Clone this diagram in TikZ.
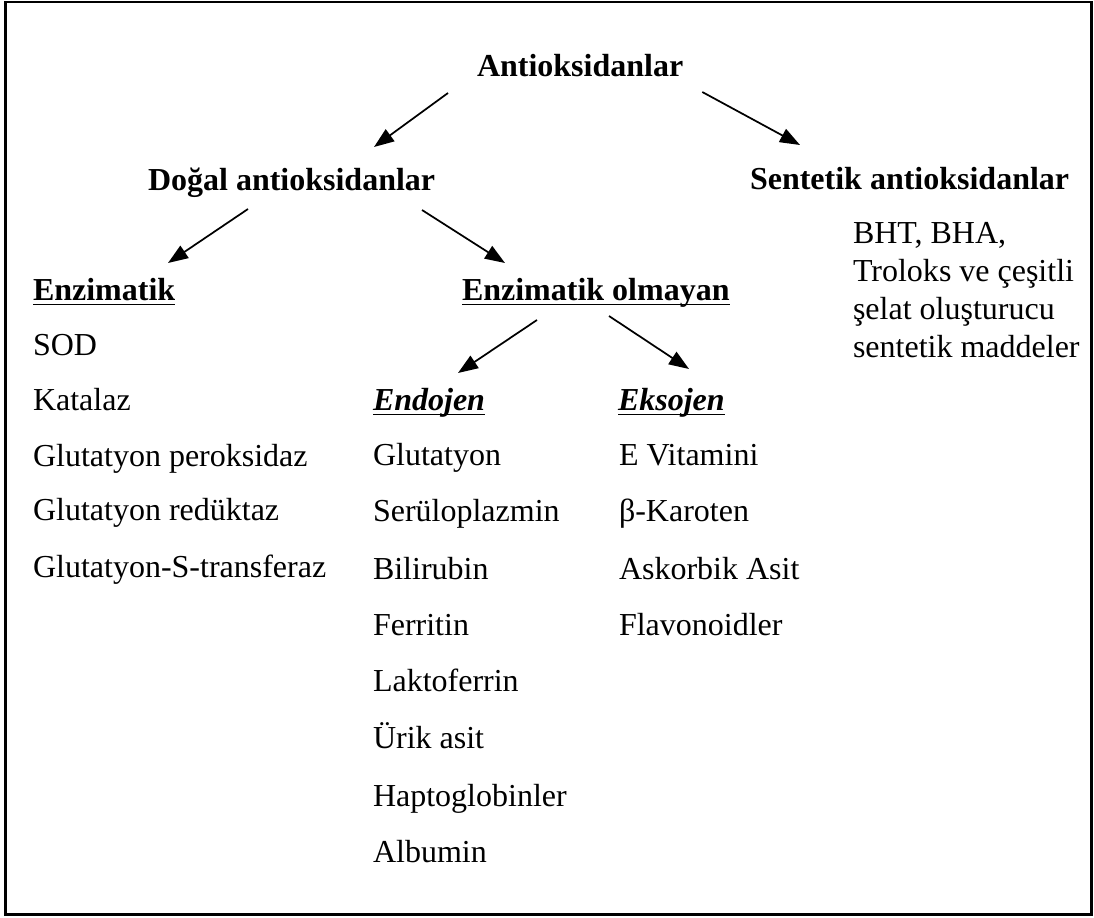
\documentclass[tikz,border=0pt]{standalone}
\usepackage{fontspec}
\setmainfont{Liberation Serif}
\usetikzlibrary{arrows.meta,calc}
\begin{document}
\begin{tikzpicture}[x=0.75pt,y=-0.75pt,
  txt/.style={inner sep=0pt, outer sep=0pt, anchor=base west, font=\fontsize{24}{28}\selectfont},
  hd/.style={txt, font=\fontsize{24}{28}\selectfont\bfseries},
  hdi/.style={txt, font=\fontsize{24}{28}\selectfont\bfseries\itshape},
  arr/.style={-{Triangle[length=15pt,width=11pt]}, line width=1.3pt},
  ul/.style={line width=1.4pt},
  frame/.style={line width=1.8pt}]
\useasboundingbox (0,0) rectangle (1094,917);
\draw[frame] (5.5,2) rectangle (1091.5,914.5);

% headers
\node[hd] (ant) at (477,76) {Antioksidanlar};
\node[hd] (dog) at (148,190) {Doğal antioksidanlar};
\node[hd] (sen) at (750,189) {Sentetik antioksidanlar};
\node[hd] (enz) at (33,300) {Enzimatik};
\node[hd] (eno) at (462,300) {Enzimatik olmayan};
\node[hdi] (endo) at (373,410) {Endojen};
\node[hdi] (ekso) at (618,410) {Eksojen};

% underlines
\foreach \n in {enz,eno,endo,ekso}
  \draw[ul] ($(\n.base west)+(0,4.5)$) -- ($(\n.base east)+(0,4.5)$);

% synthetic
\node[txt] (s1) at (853,243) {BHT, BHA,};
\node[txt] (s2) at (853,281) {Troloks ve çeşitli};
\node[txt] (s3) at (853,319) {şelat oluşturucu};
\node[txt] (s4) at (853,357) {sentetik maddeler};

% enzymatic
\node[txt] (e1) at (33,355) {SOD};
\node[txt] (e2) at (33,410) {Katalaz};
\node[txt] (e3) at (33,466) {Glutatyon peroksidaz};
\node[txt] (e4) at (33,520) {Glutatyon redüktaz};
\node[txt] (e5) at (33,577) {Glutatyon-S-transferaz};

% endogenous
\node[txt] (n1) at (373,465) {Glutatyon};
\node[txt] (n2) at (373,521) {Serüloplazmin};
\node[txt] (n3) at (373,579) {Bilirubin};
\node[txt] (n4) at (373,635) {Ferritin};
\node[txt] (n5) at (373,691) {Laktoferrin};
\node[txt] (n6) at (373,748) {Ürik asit};
\node[txt] (n7) at (373,806) {Haptoglobinler};
\node[txt] (n8) at (373,862) {Albumin};

% exogenous
\node[txt] (x1) at (619,465) {E Vitamini};
\node[txt] (x2) at (619,521) {β-Karoten};
\node[txt] (x3) at (619,579) {Askorbik Asit};
\node[txt] (x4) at (619,635) {Flavonoidler};

% arrows
\draw[arr] ($(ant.base west)+(-29,17)$) -- ($(dog.base west)+(226,-43)$);
\draw[arr] ($(ant.base east)+(19,16)$) -- ($(sen.base west)+(50,-44)$);
\draw[arr] ($(dog.base west)+(100,19)$) -- ($(enz.base west)+(135,-37)$);
\draw[arr] ($(dog.base west)+(274,20)$) -- ($(eno.base west)+(43,-37)$);
\draw[arr] ($(eno.base west)+(75,20)$) -- ($(endo.base west)+(85,-37)$);
\draw[arr] ($(eno.base west)+(147,16)$) -- ($(ekso.base west)+(71,-41)$);
\end{tikzpicture}
\end{document}
